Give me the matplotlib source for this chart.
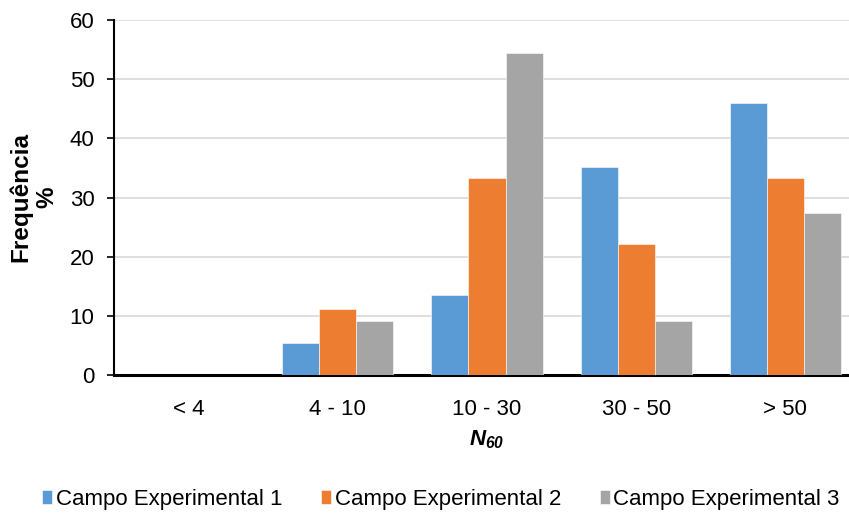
import matplotlib
matplotlib.use("Agg")
import matplotlib.pyplot as plt
import numpy as np

plt.rcParams['font.family'] = ['Liberation Sans', 'DejaVu Sans']
plt.rcParams['mathtext.fontset'] = 'custom'
plt.rcParams['mathtext.rm'] = 'Liberation Sans'
plt.rcParams['mathtext.bfit'] = 'Liberation Sans:bold:italic'

categories = ["< 4", "4 - 10", "10 - 30", "30 - 50", "> 50"]
series_names = ["Campo Experimental 1", "Campo Experimental 2", "Campo Experimental 3"]
campo1 = [0.0, 5.4, 13.5, 35.1, 45.9]
campo2 = [0.0, 11.1, 33.3, 22.2, 33.3]
campo3 = [0.0, 9.1, 54.5, 9.1, 27.3]
colors = ["#5B9BD5", "#ED7D31", "#A5A5A5"]

fs = 16
fig = plt.figure(figsize=(8.49, 5.15), dpi=100)
W, H = 849, 515
left, right, top, bottom = 114, 860, 20, 375
ax = fig.add_axes([left / W, 1 - bottom / H, (right - left) / W, (bottom - top) / H])

x = np.arange(len(categories))
bw = 0.248
for i, (vals, name, c) in enumerate(zip([campo1, campo2, campo3], series_names, colors)):
    ax.bar(x + (i - 1) * bw, vals, width=bw, color=c, label=name,
           edgecolor="white", linewidth=0.4, zorder=3)

ax.set_xlim(-0.5, len(categories) - 0.5)
ax.set_ylim(0, 60)
ax.set_yticks(range(0, 61, 10))
ax.set_xticks(x)
ax.set_xticklabels(categories)
ax.yaxis.grid(True, color="#D9D9D9", linewidth=1.2, zorder=0)
ax.set_axisbelow(True)

for s in ["top", "right"]:
    ax.spines[s].set_visible(False)
ax.spines["left"].set_linewidth(1.5)
ax.spines["bottom"].set_linewidth(2.2)
ax.tick_params(axis="y", length=5, width=1.2, labelsize=fs, pad=9, direction="out")
ax.tick_params(axis="x", length=0, labelsize=fs, pad=17)

ax.set_ylabel("Frequência\n%", fontsize=17.5, fontweight="bold", labelpad=8,
              linespacing=1.2)
ax.set_xlabel(r"$\mathbfit{N}_{\mathbfit{60}}$", fontsize=fs, labelpad=6)

handles, labels = ax.get_legend_handles_labels()
fig.legend(handles, labels, loc="center", bbox_to_anchor=(441 / W, 1 - 499 / H),
           ncol=3, frameon=False, fontsize=fs, handlelength=0.45, handleheight=0.6,
           handletextpad=0.15, columnspacing=1.75)

fig.savefig("out.png", dpi=100)
